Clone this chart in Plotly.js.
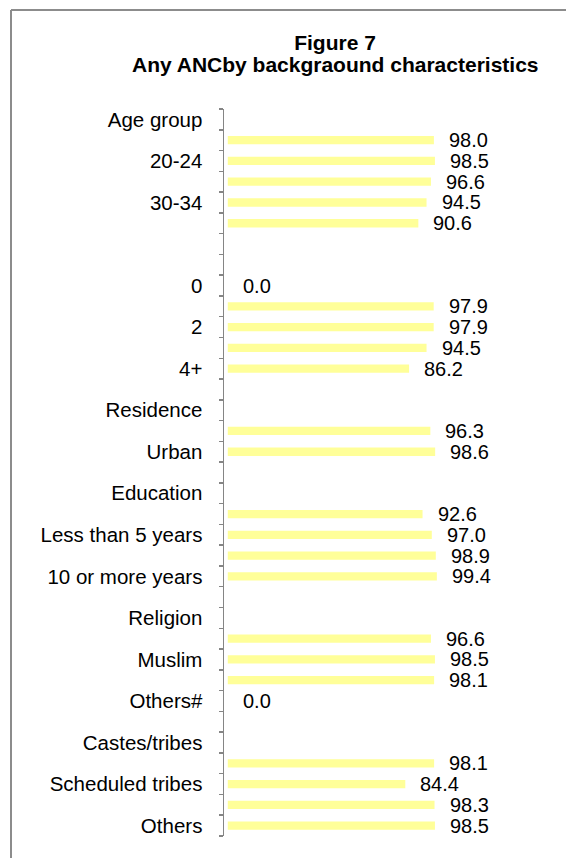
<!DOCTYPE html>
<html>
<head>
<meta charset="utf-8">
<script src="https://cdn.plot.ly/plotly-3.0.1.min.js"></script>
<style>
  html, body { margin: 0; padding: 0; background: #ffffff; }
  #chart { width: 566px; height: 858px; }
</style>
</head>
<body>
<div id="chart"></div>
<script>
// Row categories, top to bottom (group headers and spacer rows carry no bar)
const categories = [
  "Age group", "15-19", "20-24", "25-29", "30-34", "35-49",
  "", "Number of living children", "0", "1", "2", "3", "4+",
  "spacer 1", "Residence", "Rural", "Urban",
  "spacer 2", "Education", "Non-literate", "Less than 5 years", "5-9 years", "10 or more years",
  "spacer 3", "Religion", "Hindu", "Muslim", "Christian", "Others#",
  "spacer 4", "Castes/tribes", "Scheduled castes", "Scheduled tribes", "Other backward classes", "Others"
];

// Percentage receiving any ANC (null = header / spacer row)
const ancValues = [
  null, 98.0, 98.5, 96.6, 94.5, 90.6,
  null, null, 0.0, 97.9, 97.9, 94.5, 86.2,
  null, null, 96.3, 98.6,
  null, null, 92.6, 97.0, 98.9, 99.4,
  null, null, 96.6, 98.5, 98.1, 0.0,
  null, null, 98.1, 84.4, 98.3, 98.5
];

// Labels printed on the category axis (every other row)
const tickLabels = [
  "Age group", "", "20-24", "", "30-34", "",
  "", "", "0", "", "2", "", "4+",
  "", "Residence", "", "Urban",
  "", "Education", "", "Less than 5 years", "", "10 or more years",
  "", "Religion", "", "Muslim", "", "Others#",
  "", "Castes/tribes", "", "Scheduled tribes", "", "Others"
];

const titleLines = ["Figure 7", "Any ANCby backgraound characteristics"];

const W = 566, H = 858;
const margin = { l: 224, r: 69, t: 109, b: 21.5, pad: 0 };
const xRange = [-1.8, 128];
const plotW = W - margin.l - margin.r;
const plotH = H - margin.t - margin.b;
const FONT = "Arial, 'Liberation Sans', Helvetica, sans-serif";
const TICK_SIZE = 20.5;
const VALUE_SIZE = 20;

const bars = {
  type: "bar",
  orientation: "h",
  y: categories,
  x: ancValues,
  marker: { color: "#FFFF99", line: { width: 0 } },
  hoverinfo: "x+y",
  showlegend: false
};

const px2x = px => (px - margin.l) / plotW;
const px2y = py => 1 - (py - margin.t) / plotH;

// Value labels to the right of each bar (y given as the row index)
const annotations = [];
categories.forEach((c, i) => {
  const v = ancValues[i];
  if (v === null) return;
  annotations.push({
    x: v, y: i, xref: "x", yref: "y",
    text: v.toFixed(1),
    showarrow: false,
    xanchor: "left", yanchor: "middle",
    xshift: 13, yshift: 0,
    font: { family: FONT, size: VALUE_SIZE, color: "#000000" }
  });
});

// Second title line
annotations.push({
  xref: "paper", yref: "paper",
  x: px2x(335), y: px2y(64),
  xanchor: "center", yanchor: "middle",
  showarrow: false,
  text: "<b>" + titleLines[1] + "</b>",
  font: { family: FONT, size: 21, color: "#000000" }
});

// Frame line along the top and left of the figure
const shapes = [
  { type: "line", xref: "paper", yref: "paper",
    x0: px2x(11), x1: px2x(600), y0: px2y(10), y1: px2y(10),
    line: { color: "#8c8c8c", width: 2 } },
  { type: "line", xref: "paper", yref: "paper",
    x0: px2x(11), x1: px2x(11), y0: px2y(10), y1: px2y(900),
    line: { color: "#8c8c8c", width: 2 } }
];

const layout = {
  width: W, height: H,
  margin: margin,
  paper_bgcolor: "#ffffff",
  plot_bgcolor: "rgba(0,0,0,0)",
  font: { family: FONT, size: TICK_SIZE, color: "#000000" },
  bargap: 0.6,
  title: {
    text: "<b>" + titleLines[0] + "</b>",
    font: { family: FONT, size: 21, color: "#000000" },
    xref: "container", yref: "container",
    x: 335 / W, xanchor: "center",
    y: 1 - 43 / H, yanchor: "middle"
  },
  xaxis: {
    range: xRange,
    visible: false,
    showgrid: false,
    zeroline: false,
    fixedrange: true
  },
  yaxis: {
    type: "category",
    categoryorder: "array",
    categoryarray: categories,
    range: [categories.length - 0.5, -0.5],
    tickmode: "array",
    tickvals: categories,
    ticktext: tickLabels,
    tickson: "boundaries",
    ticks: "outside",
    ticklen: 4,
    tickwidth: 1.5,
    tickcolor: "#858585",
    ticklabelstandoff: 16,
    showline: true,
    linecolor: "#858585",
    linewidth: 1.5,
    showgrid: false,
    zeroline: false,
    tickfont: { family: FONT, size: TICK_SIZE, color: "#000000" },
    fixedrange: true
  },
  annotations: annotations,
  shapes: shapes
};

Plotly.newPlot("chart", [bars], layout, { displayModeBar: false, staticPlot: true });
</script>
</body>
</html>
